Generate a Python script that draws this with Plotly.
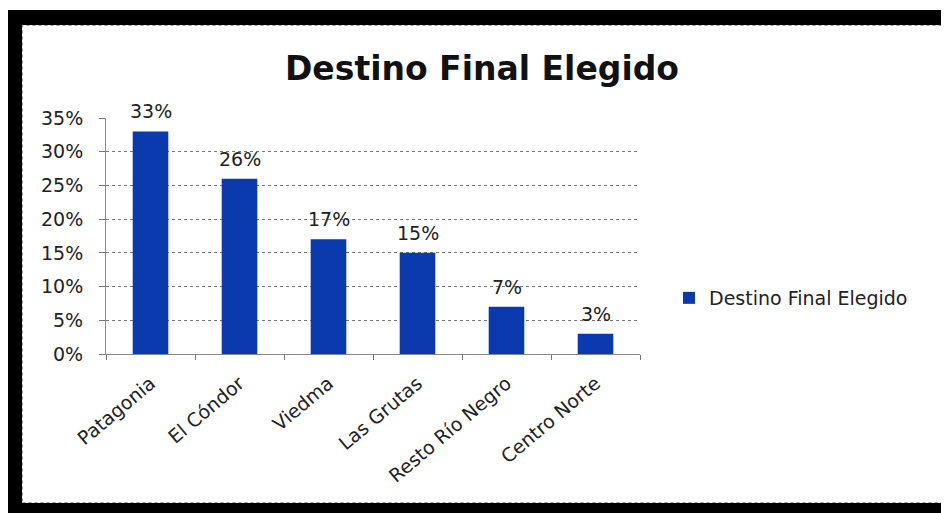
import plotly.graph_objects as go

categories = ["Patagonia", "El Cóndor", "Viedma", "Las Grutas", "Resto Río Negro", "Centro Norte"]
values = [0.33, 0.26, 0.17, 0.15, 0.07, 0.03]
series_name = "Destino Final Elegido"
title_text = "Destino Final Elegido"

# page has an 8px body margin; size the figure to fit the 949x513 window
OFF = 8
W, H = 949 - OFF, 513 - OFF
# plot area in window pixels
PX0, PX1, PY0, PY1 = 106, 640, 118, 354
L, R, T, B = PX0 - OFF, W - (PX1 - OFF), PY0 - OFF, H - (PY1 - OFF)
PW, PH = PX1 - PX0, PY1 - PY0

def px(x):
    return (x - PX0) / PW

def py(y):
    return (PY1 - y) / PH

FONT = "DejaVu Sans"
BLUE = "#0b3aae"
TXT = "#222"

fig = go.Figure()
fig.add_trace(go.Bar(
    x=categories, y=values, name=series_name,
    marker=dict(color=BLUE, line=dict(width=0)),
    showlegend=True,
))

annotations = []
for c, v in zip(categories, values):
    annotations.append(dict(x=c, y=v, xref="x", yref="y", text=f"{round(v * 100)}%",
                            showarrow=False, yanchor="middle", yshift=20,
                            font=dict(family=FONT, size=19, color=TXT)))

shapes = []
# black frame (window pixel coordinates)
for (x0, y0, x1, y1) in [(0, 10, 22, 513), (6, 10, 960, 25), (943, 10, 960, 513), (0, 503, 960, 520)]:
    shapes.append(dict(type="rect", xref="paper", yref="paper",
                       x0=px(x0), x1=px(x1), y0=py(y1), y1=py(y0),
                       fillcolor="black", line=dict(width=0), layer="above"))
# white page margin on the left (left of the black frame)
shapes.append(dict(type="rect", xref="paper", yref="paper",
                   x0=px(-10), x1=px(6), y0=py(520), y1=py(0),
                   fillcolor="white", line=dict(width=0), layer="above"))
# thin gray inner border
shapes.append(dict(type="rect", xref="paper", yref="paper",
                   x0=px(22.5), x1=px(942.5), y0=py(502.5), y1=py(25.5),
                   line=dict(color="#999", width=1, dash="dot"), layer="above"))

fig.update_layout(
    width=W, height=H,
    margin=dict(l=L, r=R, t=T, b=B, autoexpand=False),
    paper_bgcolor="white", plot_bgcolor="white",
    font=dict(family=FONT, color=TXT),
    title=dict(text="<b>" + title_text + "</b>", x=(482 - OFF) / W, xref="container",
               y=1 - (68 - OFF) / H, yref="container", xanchor="center", yanchor="middle",
               font=dict(family=FONT, size=33, color="#111")),
    bargap=0.6,
    showlegend=True,
    legend=dict(x=px(669), y=py(298), xanchor="left", yanchor="middle",
                font=dict(family=FONT, size=19, color=TXT),
                bgcolor="rgba(0,0,0,0)", itemwidth=30),
    shapes=shapes,
    annotations=annotations,
    xaxis=dict(
        type="category", tickangle=-40, tickson="boundaries",
        ticks="outside", ticklen=5, tickcolor="#777",
        showline=True, linecolor="#888", linewidth=1,
        tickfont=dict(family=FONT, size=19, color=TXT),
        ticklabelstandoff=10,
        showgrid=False,
    ),
    yaxis=dict(
        range=[0, 0.35], dtick=0.05, tickformat=".0%",
        ticks="outside", ticklen=6, tickcolor="#777",
        showline=True, linecolor="#888", linewidth=1,
        showgrid=True, gridcolor="#777", griddash="dot", gridwidth=1,
        tickfont=dict(family=FONT, size=19, color=TXT),
        ticklabelstandoff=12, zeroline=False,
    ),
)

fig.write_html("out.html")
